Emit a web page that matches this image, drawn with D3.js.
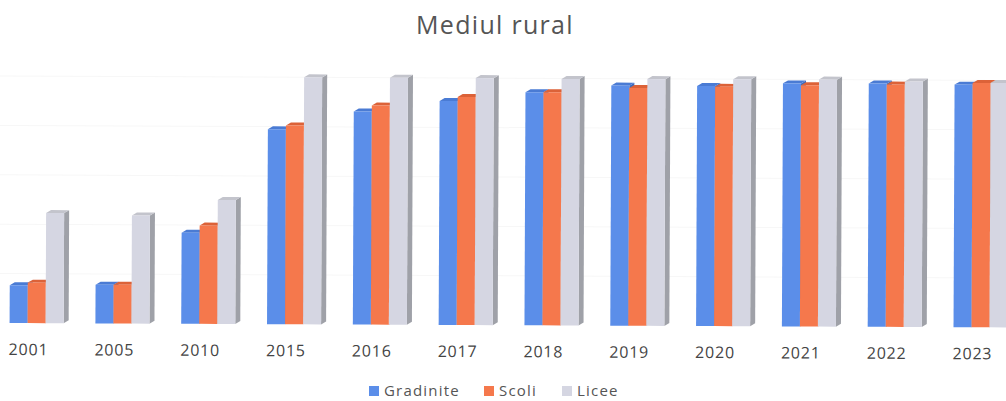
<!DOCTYPE html>
<html><head><meta charset="utf-8">
<script src="https://cdn.jsdelivr.net/npm/d3@7"></script>
<style>body{margin:0;background:#fff}svg{display:block}</style>
</head><body>
<svg id="c" width="1006" height="401"></svg>
<script>
const years = ["2001","2005","2010","2015","2016","2017","2018","2019","2020","2021","2022","2023"];
const gradinite = [15.3,15.7,36.9,78.9,86.3,90.7,94.4,97.2,97.2,98.4,98.5,98.2];
const scoli     = [16.4,15.7,39.8,80.5,88.7,92.3,94.4,96.3,96.9,97.7,98.1,98.9];
const licee     = [44.6,43.8,50.2,100,100,100,99.8,99.9,100,100,99.4,98.9];
const seriesNames = ["Gradinite","Scoli","Licee"];
const seriesData = [gradinite, scoli, licee];
const colors = ["#5b8ee9","#f5784c","#d5d6e2"];
const topColors = ["#4a7bd4","#dc6238","#c3c4cc"];
const sideColors = ["#3f6bbd","#c85530","#9fa1a8"];

const svg = d3.select("#c");
const font = "'Open Sans', 'Liberation Sans', sans-serif";

svg.append("text").attr("x",495).attr("y",34).attr("text-anchor","middle")
  .attr("font-family",font).attr("font-size",25).attr("fill","#555")
  .attr("letter-spacing",1.3).text("Mediul rural");

const g = svg.append("g").attr("transform","rotate(0.25)");

const x = d3.scaleBand().domain(years).range([11,1009]).paddingInner(0.37).paddingOuter(0);
const y = d3.scaleLinear().domain([0,100]).range([323,76]);
const xs = d3.scaleBand().domain(seriesNames).range([0,x.bandwidth()]).padding(0);
const dx = 5, dy = 3;

// faint gridlines
g.append("g").selectAll("line").data(y.ticks(5).slice(1)).join("line")
  .attr("x1",0).attr("x2",1006).attr("y1",d=>y(d)).attr("y2",d=>y(d))
  .attr("stroke","#f7f7f7").attr("stroke-width",1);

const groups = g.append("g").selectAll("g").data(years).join("g")
  .attr("transform",d=>`translate(${x(d)},0)`);

groups.each(function(yr,i){
  const gg = d3.select(this);
  seriesNames.forEach((s,k)=>{
    const v = seriesData[k][i];
    const x0 = xs(s), w = xs.bandwidth();
    const yt = y(v), yb = y(0);
    gg.append("path").attr("d",`M${x0+w},${yt}L${x0+w+dx},${yt-dy}L${x0+w+dx},${yb-dy}L${x0+w},${yb}Z`)
      .attr("fill",sideColors[k]);
    gg.append("path").attr("d",`M${x0},${yt}L${x0+dx},${yt-dy}L${x0+w+dx},${yt-dy}L${x0+w},${yt}Z`)
      .attr("fill",topColors[k]);
    gg.append("rect").attr("x",x0).attr("y",yt).attr("width",w).attr("height",yb-yt)
      .attr("fill",colors[k]);
  });
});

// category labels
g.append("g").selectAll("text").data(years).join("text")
  .attr("x",d=>x(d)+x.bandwidth()/2-8).attr("y",355).attr("text-anchor","middle")
  .attr("font-family",font).attr("font-size",16).attr("fill","#444")
  .attr("letter-spacing",0.8).text(d=>d);

// legend
const legendX = [369,484,562];
const lg = svg.append("g");
seriesNames.forEach((s,k)=>{
  lg.append("rect").attr("x",legendX[k]).attr("y",386).attr("width",10).attr("height",10).attr("fill",colors[k]);
  lg.append("text").attr("x",legendX[k]+15).attr("y",396).attr("font-family",font)
    .attr("font-size",15).attr("fill","#555").attr("letter-spacing",1.2).text(s);
});
</script>
</body></html>
